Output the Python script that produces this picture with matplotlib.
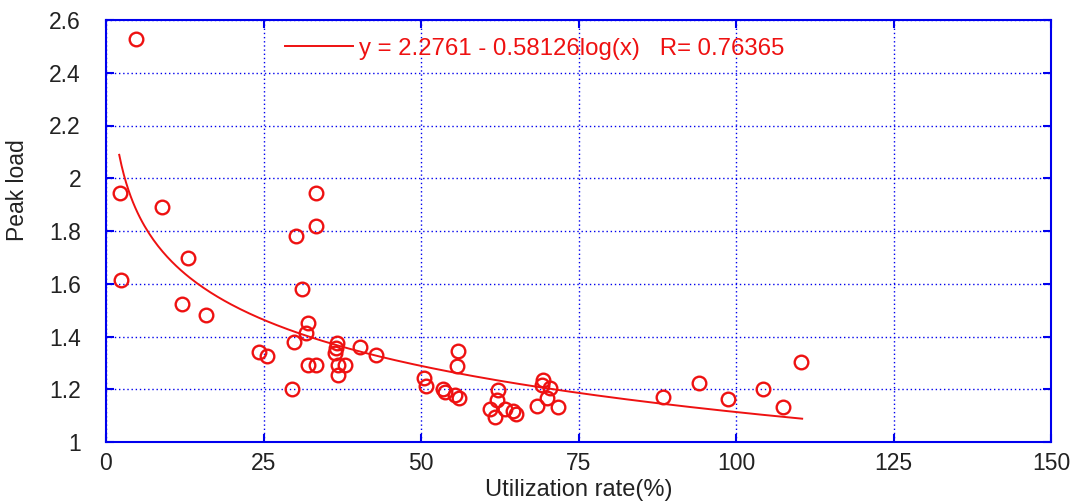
import matplotlib
matplotlib.use("Agg")
import matplotlib.pyplot as plt
import numpy as np

plt.rcParams['font.family'] = ['Liberation Sans', 'DejaVu Sans']

util_rate = [4.8, 2.2, 2.4, 8.9, 13.0, 12.1, 15.9,
             33.3, 33.3, 30.2, 31.1, 32.1, 31.7, 29.8, 24.3, 25.5, 29.5,
             32.1, 33.3, 36.7, 36.5, 36.3, 36.8, 37.9, 36.8, 40.3, 42.9,
             55.9, 55.7, 50.5, 50.8, 53.5, 53.8, 55.4, 56.0,
             62.2, 62.0, 61.0, 61.7, 63.3, 64.6, 65.1,
             69.4, 69.2, 70.5, 70.0, 68.4, 71.7,
             88.4, 94.1, 98.7, 104.3, 107.5, 110.3]
peak_load = [2.528, 1.944, 1.614, 1.891, 1.698, 1.523, 1.481,
             1.944, 1.819, 1.781, 1.580, 1.451, 1.413, 1.379, 1.341, 1.326, 1.201,
             1.292, 1.292, 1.375, 1.356, 1.337, 1.292, 1.292, 1.254, 1.360, 1.330,
             1.345, 1.288, 1.243, 1.212, 1.201, 1.190, 1.178, 1.167,
             1.197, 1.160, 1.125, 1.095, 1.125, 1.118, 1.107,
             1.235, 1.216, 1.205, 1.167, 1.137, 1.133,
             1.171, 1.224, 1.163, 1.201, 1.133, 1.303]

fit_a = 2.2761
fit_b = 0.58126
fit_r = 0.76365
fit_xmin, fit_xmax = 2.1, 110.5

x_ticks = [0, 25, 50, 75, 100, 125, 150]
y_ticks = [1, 1.2, 1.4, 1.6, 1.8, 2, 2.2, 2.4, 2.6]
y_tick_labels = ['1', '1.2', '1.4', '1.6', '1.8', '2', '2.2', '2.4', '2.6']

fig = plt.figure(figsize=(10.8, 5.04), dpi=100)
ax = fig.add_axes([106/1080, 1 - 442/504, (1051-106)/1080, (442-20)/504])

xf = np.linspace(fit_xmin, fit_xmax, 300)
yf = fit_a - fit_b * np.log10(xf)
ax.plot(xf, yf, color='#ee1111', lw=1.4,
        label='y = %.4f - %.5flog(x)   R= %.5f' % (fit_a, fit_b, fit_r), zorder=3)
ax.plot(util_rate, peak_load, linestyle='none', marker='o', markersize=9.8,
        markerfacecolor='none', markeredgecolor='#ee1111', markeredgewidth=1.7, zorder=4)

ax.set_xlim(0, 150)
ax.set_ylim(1, 2.6)
ax.set_xticks(x_ticks)
ax.set_yticks(y_ticks)
ax.set_yticklabels(y_tick_labels)
ax.grid(True, color='#0000ee', linestyle=(0, (1, 2)), linewidth=1.0)
for s in ax.spines.values():
    s.set_color('#0000ee')
    s.set_linewidth(1.5)
ax.tick_params(direction='in', color='#0000ee', length=6, width=1.5,
               top=True, right=True, labelsize=16.5, labelcolor='#222222')
ax.tick_params(axis='y', pad=18)
ax.tick_params(axis='x', pad=7)
ax.set_xlabel('Utilization rate(%)', fontsize=17, color='#222222', labelpad=3)
ax.set_ylabel('Peak load', fontsize=16.5, color='#222222')
ax.yaxis.set_label_coords(-0.082, 0.597)

leg = ax.legend(loc='upper left', bbox_to_anchor=(0.179, 0.981), frameon=False,
                handlelength=2.84, handletextpad=0.25, fontsize=17.3, borderaxespad=0.0)
for t in leg.get_texts():
    t.set_color('#ee1111')

fig.savefig('out.png', dpi=100)
